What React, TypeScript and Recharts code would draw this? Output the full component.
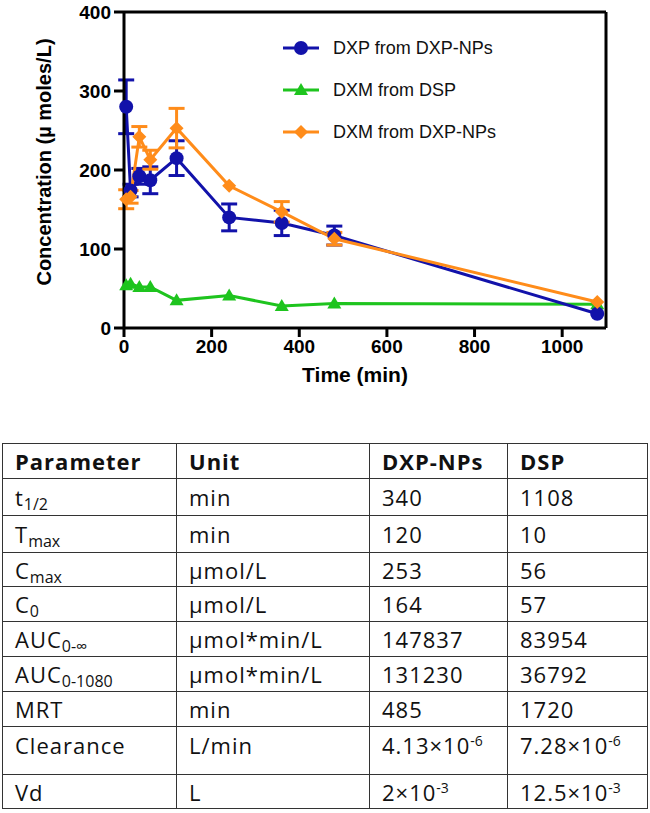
import React from "react"
import {
  ErrorBar,
  Line,
  LineChart,
  ReferenceLine,
  XAxis,
  YAxis,
} from "recharts"

// sampling times (min)
const times = [5, 15, 35, 60, 120, 240, 360, 480, 1080]

// concentrations (µmol/L) and SEM
const dxpFromNps = [280, 174, 192, 187, 215, 140, 133, 117, 18]
const dxpFromNpsErr = [34, 8, 10, 17, 22, 17, 16, 12, 0]
const dxmFromDsp = [54, 56, 52, 52, 35, 41, 28, 31, 30]
const dxmFromNps = [163, 166, 242, 213, 253, 180, 147, 113, 33]
const dxmFromNpsErr = [12, 8, 13, 12, 25, 0, 13, 8, 0]

const xTicks = [0, 200, 400, 600, 800, 1000]
const yTicks = [0, 100, 200, 300, 400]

// PK parameter table
const paramNames = ["t", "T", "C", "C", "AUC", "AUC", "MRT", "Clearance", "Vd"]
const paramSubs = ["1/2", "max", "max", "0", "0-∞", "0-1080", "", "", ""]
const paramUnits = ["min", "min", "µmol/L", "µmol/L", "µmol*min/L", "µmol*min/L", "min", "L/min", "L"]
const npsValues = ["340", "120", "253", "164", "147837", "131230", "485", "4.13×10^-6", "2×10^-3"]
const dspValues = ["1108", "10", "56", "57", "83954", "36792", "1720", "7.28×10^-6", "12.5×10^-3"]

const BLUE = "#1212aa"
const GREEN = "#1ec41e"
const ORANGE = "#ff8c1a"

const series = [
  { key: "dxp", name: "DXP from DXP-NPs", color: BLUE, marker: "circle" },
  { key: "dsp", name: "DXM from DSP", color: GREEN, marker: "tri" },
  { key: "dxm", name: "DXM from DXP-NPs", color: ORANGE, marker: "dia" },
]

const data = times.map((t, i) => ({
  time: t,
  dxp: dxpFromNps[i],
  dxpErr: dxpFromNpsErr[i],
  dsp: dxmFromDsp[i],
  dxm: dxmFromNps[i],
  dxmErr: dxmFromNpsErr[i],
}))

const axisFont = "'Liberation Sans', Arial, sans-serif"
const tickStyle = { fill: "#000", fontSize: 19, fontWeight: 700, fontFamily: axisFont }

function Marker({ kind, cx, cy, color }: { kind: string; cx: number; cy: number; color: string }) {
  if (kind === "tri") {
    return <path d={`M${cx},${cy - 7} L${cx + 7},${cy + 5} L${cx - 7},${cy + 5} Z`} fill={color} />
  }
  if (kind === "dia") {
    return <path d={`M${cx},${cy - 7} L${cx + 7},${cy} L${cx},${cy + 7} L${cx - 7},${cy} Z`} fill={color} />
  }
  return <circle cx={cx} cy={cy} r={7} fill={color} />
}

function ChartLegend() {
  return (
    <div style={{ position: "absolute", left: 281, top: 27, fontFamily: axisFont, fontSize: 18, color: "#111" }}>
      {series.map((s) => (
        <div key={s.key} style={{ display: "flex", alignItems: "center", height: 42 }}>
          <svg width={40} height={20} style={{ marginRight: 12 }}>
            <line x1={2} y1={10} x2={38} y2={10} stroke={s.color} strokeWidth={3} />
            <Marker kind={s.marker} cx={20} cy={10} color={s.color} />
          </svg>
          <span>{s.name}</span>
        </div>
      ))}
    </div>
  )
}

function Cell({ text }: { text: string }) {
  const [base, exp] = text.split("^")
  return (
    <>
      {base}
      {exp && <sup style={{ fontSize: 14, verticalAlign: 8, lineHeight: 0, letterSpacing: 0 }}>{exp}</sup>}
    </>
  )
}

const colWidths = [174, 193, 138, 140]
const rowHeights = [37, 37, 34, 35, 35, 35, 35, 48, 34]

export default function App() {
  const border = "1.5px solid #333"
  const td = (w: number, h: number, top?: boolean): React.CSSProperties => ({
    width: w,
    height: h,
    border,
    padding: "0 0 0 12px",
    verticalAlign: top ? "top" : "middle",
    paddingTop: top ? 3 : 0,
    boxSizing: "border-box",
    whiteSpace: "nowrap",
  })

  return (
    <div style={{ position: "absolute", left: 0, top: 0, width: 650, height: 813, background: "#fff" }}>
      <LineChart width={650} height={400} data={data} margin={{ top: 12, right: 44, left: 0, bottom: 0 }}>
        <XAxis
          dataKey="time"
          type="number"
          domain={[0, 1100]}
          ticks={xTicks}
          height={72}
          stroke="#000"
          strokeWidth={3}
          tickSize={9}
          tickMargin={3}
          tick={tickStyle}
          tickLine={{ stroke: "#000", strokeWidth: 3 }}
          label={{
            value: "Time (min)",
            position: "insideBottom",
            offset: 18,
            dx: -10,
            style: { fill: "#000", fontSize: 21, fontWeight: 700, fontFamily: axisFont },
          }}
        />
        <YAxis
          type="number"
          domain={[0, 400]}
          ticks={yTicks}
          width={124}
          stroke="#000"
          strokeWidth={3}
          tickSize={10}
          tickMargin={3}
          tick={tickStyle}
          tickLine={{ stroke: "#000", strokeWidth: 3 }}
          label={{
            value: "Concentration (µ moles/L)",
            angle: -90,
            position: "insideLeft",
            offset: 44,
            dy: -8,
            style: { textAnchor: "middle", fill: "#000", fontSize: 20, fontWeight: 700, fontFamily: axisFont },
          }}
        />
        <ReferenceLine y={400} stroke="#000" strokeWidth={3} />
        <ReferenceLine x={1100} stroke="#000" strokeWidth={3} />
        <Line
          dataKey="dsp"
          name="DXM from DSP"
          stroke={GREEN}
          strokeWidth={3}
          isAnimationActive={false}
          dot={(p: any) => <Marker key={p.index} kind="tri" cx={p.cx} cy={p.cy} color={GREEN} />}
        />
        <Line
          dataKey="dxp"
          name="DXP from DXP-NPs"
          stroke={BLUE}
          strokeWidth={3}
          isAnimationActive={false}
          dot={(p: any) => <Marker key={p.index} kind="circle" cx={p.cx} cy={p.cy} color={BLUE} />}
        >
          <ErrorBar dataKey="dxpErr" direction="y" width={8} stroke={BLUE} strokeWidth={3} />
        </Line>
        <Line
          dataKey="dxm"
          name="DXM from DXP-NPs"
          stroke={ORANGE}
          strokeWidth={3}
          isAnimationActive={false}
          dot={(p: any) => <Marker key={p.index} kind="dia" cx={p.cx} cy={p.cy} color={ORANGE} />}
        >
          <ErrorBar dataKey="dxmErr" direction="y" width={8} stroke={ORANGE} strokeWidth={3} />
        </Line>
      </LineChart>
      <ChartLegend />

      <table
        style={{
          position: "absolute",
          left: 2,
          top: 443,
          borderCollapse: "collapse",
          fontFamily: "'Open Sans', sans-serif",
          fontSize: 22,
          letterSpacing: 1,
          color: "#111",
          tableLayout: "fixed",
        }}
      >
        <tbody>
          <tr style={{ fontWeight: 700 }}>
            <td style={td(colWidths[0], 35)}>Parameter</td>
            <td style={td(colWidths[1], 35)}>Unit</td>
            <td style={td(colWidths[2], 35)}>DXP-NPs</td>
            <td style={td(colWidths[3], 35)}>DSP</td>
          </tr>
          {paramNames.map((name, i) => {
            const top = paramNames[i] === "Clearance"
            return (
              <tr key={i}>
                <td style={td(colWidths[0], rowHeights[i], top)}>
                  {name}
                  {paramSubs[i] && (
                    <sub style={{ fontSize: 16, verticalAlign: -4, lineHeight: 0, letterSpacing: 0 }}>
                      {paramSubs[i]}
                    </sub>
                  )}
                </td>
                <td style={td(colWidths[1], rowHeights[i], top)}>{paramUnits[i]}</td>
                <td style={td(colWidths[2], rowHeights[i], top)}>
                  <Cell text={npsValues[i]} />
                </td>
                <td style={td(colWidths[3], rowHeights[i], top)}>
                  <Cell text={dspValues[i]} />
                </td>
              </tr>
            )
          })}
        </tbody>
      </table>
    </div>
  )
}
